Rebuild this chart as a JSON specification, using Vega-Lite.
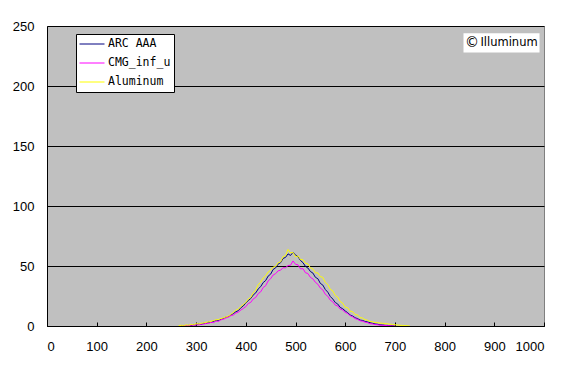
{
"$schema": "https://vega.github.io/schema/vega-lite/v6.json",
"width": 497, "height": 300,
"autosize": {"type": "none"},
"padding": {"left": 47, "top": 26, "right": 24, "bottom": 42},
"background": "white",
"config": {
  "view": {"fill": "#C0C0C0", "stroke": "#808080", "strokeWidth": 1},
  "axis": {"labelFont": "Liberation Sans", "labelFontSize": 13, "labelColor": "black", "domainColor": "black", "tickColor": "black", "gridColor": "black", "gridOpacity": 1, "title": null},
  "legend": {"orient": "none", "legendX": 29, "legendY": 8, "fillColor": "white", "strokeColor": "black", "padding": 3, "symbolType": "stroke", "symbolSize": 625, "symbolStrokeWidth": 1, "clipHeight": 14, "labelFont": "DejaVu Sans Mono", "labelFontSize": 11.5, "labelColor": "black", "labelOffset": 3, "rowPadding": 5, "title": null, "cornerRadius": 0}
},
"datasets": {
"ARC": [[270,0],[275,0.3],[280,0],[285,0.5],[290,0.4],[295,1.0],[300,0.8],[305,1.6],[310,1.3],[315,2.2],[320,2.0],[325,3.1],[330,2.9],[335,3.8],[340,4.7],[345,4.5],[350,5.6],[355,6.3],[360,7.4],[365,7.9],[370,9.2],[375,10.3],[380,11.9],[385,12.8],[390,15.2],[395,16.7],[400,19.3],[405,21.2],[410,22.9],[415,25.9],[420,27.6],[425,30.9],[430,32.8],[435,36.2],[440,37.9],[445,41.6],[450,43.2],[455,47.1],[460,48.4],[465,51.6],[470,52.7],[475,56.3],[480,57.2],[485,60.1],[490,58.8],[495,61.4],[500,59.1],[505,57.9],[510,54.6],[515,52.8],[520,49.7],[525,48.3],[530,45.4],[535,44.1],[540,40.6],[545,39.4],[550,35.5],[555,34.1],[560,30.4],[565,28.2],[570,24.6],[575,22.5],[580,19.6],[585,18.3],[590,15.5],[595,14.4],[600,12.6],[605,11.1],[610,9.2],[615,8.3],[620,6.9],[625,6.1],[630,4.9],[635,4.6],[640,3.8],[645,3.4],[650,2.7],[655,2.3],[660,1.7],[665,1.5],[670,1.0],[675,0.9],[680,0.6],[685,0.5],[690,0.3],[695,0.2],[700,0]],
"CMG": [[270,0],[275,0],[280,0.4],[285,0.3],[290,0.7],[295,0.6],[300,1.0],[305,0.9],[310,1.6],[315,1.4],[320,2.3],[325,2.1],[330,3.1],[335,2.8],[340,4.1],[345,3.9],[350,5.2],[355,5.6],[360,6.7],[365,7.3],[370,8.6],[375,9.2],[380,10.8],[385,11.6],[390,13.3],[395,14.6],[400,16.1],[405,18.8],[410,19.7],[415,22.6],[420,23.8],[425,27.0],[430,28.5],[435,32.1],[440,33.6],[445,37.6],[450,39.4],[455,42.5],[460,43.6],[465,46.0],[470,46.5],[475,48.6],[480,48.5],[485,50.4],[490,50.6],[495,54.2],[500,51.4],[505,51.0],[510,47.6],[515,47.8],[520,44.4],[525,43.7],[530,40.5],[535,39.3],[540,36.4],[545,34.8],[550,31.6],[555,30.1],[560,26.4],[565,24.8],[570,21.5],[575,20.2],[580,17.4],[585,16.7],[590,14.1],[595,13.3],[600,11.4],[605,10.4],[610,8.6],[615,7.7],[620,6.2],[625,5.4],[630,4.4],[635,3.9],[640,3.2],[645,2.7],[650,1.9],[655,1.7],[660,1.2],[665,1.0],[670,0.7],[675,0.6],[680,0.4],[685,0.3],[690,0.2],[695,0],[700,0]],
"ALU": [[265,0.3],[270,0.6],[275,0.4],[280,0.9],[285,0.7],[290,1.3],[295,1.1],[300,1.9],[305,1.7],[310,2.3],[315,2.5],[320,3.1],[325,3.4],[330,3.9],[335,4.6],[340,5.1],[345,5.4],[350,6.2],[355,6.8],[360,7.6],[365,8.3],[370,9.6],[375,11.4],[380,13.2],[385,14.1],[390,16.3],[395,17.9],[400,19.6],[405,22.6],[410,23.7],[415,27.8],[420,29.8],[425,34.6],[430,36.5],[435,40.1],[440,41.8],[445,45.0],[450,46.5],[455,49.1],[460,49.6],[465,52.7],[470,53.4],[475,57.8],[480,58.6],[485,63.8],[490,60.9],[495,61.3],[500,57.6],[505,58.5],[510,55.4],[515,55.2],[520,52.3],[525,51.7],[530,48.5],[535,47.6],[540,44.4],[545,44.2],[550,41.2],[555,40.5],[560,36.3],[565,34.6],[570,30.5],[575,29.3],[580,25.4],[585,24.1],[590,20.4],[595,19.0],[600,15.7],[605,15.2],[610,12.4],[615,11.9],[620,9.6],[625,9.1],[630,7.1],[635,6.6],[640,5.2],[645,4.8],[650,3.8],[655,3.5],[660,2.9],[665,2.8],[670,2.4],[675,2.3],[680,1.9],[685,1.9],[690,1.4],[695,1.4],[700,1.0],[705,0.9],[710,0.6],[715,0.5],[720,0.3],[725,0.2],[730,0]]
},
"layer": [
  {
    "data": {"name": "ARC"},
    "transform": [{"calculate": "datum[0]", "as": "x"}, {"calculate": "datum[1]", "as": "y"}, {"calculate": "'ARC AAA'", "as": "s"}],
    "mark": {"type": "line", "strokeWidth": 1, "clip": true},
    "encoding": {
      "x": {"field": "x", "type": "quantitative", "scale": {"domain": [0, 1000], "nice": false}, "axis": {"values": [0,100,200,300,400,500,600,700,800,900,1000], "format": "d", "grid": false, "tickSize": -4, "labelPadding": 18}},
      "y": {"field": "y", "type": "quantitative", "scale": {"domain": [0, 250], "nice": false}, "axis": {"values": [0,50,100,150,200,250], "grid": true, "ticks": false, "labelPadding": 13}},
      "color": {"field": "s", "type": "nominal", "scale": {"domain": ["ARC AAA", "CMG_inf_u", "Aluminum"], "range": ["#000080", "#FF00FF", "#FFFF00"]}}
    }
  },
  {
    "data": {"name": "CMG"},
    "transform": [{"calculate": "datum[0]", "as": "x"}, {"calculate": "datum[1]", "as": "y"}, {"calculate": "'CMG_inf_u'", "as": "s"}],
    "mark": {"type": "line", "strokeWidth": 1, "clip": true},
    "encoding": {
      "x": {"field": "x", "type": "quantitative"},
      "y": {"field": "y", "type": "quantitative"},
      "color": {"field": "s", "type": "nominal"}
    }
  },
  {
    "data": {"name": "ALU"},
    "transform": [{"calculate": "datum[0]", "as": "x"}, {"calculate": "datum[1]", "as": "y"}, {"calculate": "'Aluminum'", "as": "s"}],
    "mark": {"type": "line", "strokeWidth": 1, "clip": true},
    "encoding": {
      "x": {"field": "x", "type": "quantitative"},
      "y": {"field": "y", "type": "quantitative"},
      "color": {"field": "s", "type": "nominal"}
    }
  },
  {
    "data": {"values": [{}]},
    "mark": {"type": "rect", "fill": "white"},
    "encoding": {
      "x": {"datum": 838, "type": "quantitative"}, "x2": {"datum": 991},
      "y": {"datum": 244, "type": "quantitative"}, "y2": {"datum": 228}
    }
  },
  {
    "data": {"values": [{}]},
    "mark": {"type": "text", "text": "©", "font": "DejaVu Sans", "fontSize": 14, "align": "left", "baseline": "middle", "color": "black"},
    "encoding": {"x": {"datum": 841, "type": "quantitative"}, "y": {"datum": 236, "type": "quantitative"}}
  },
  {
    "data": {"values": [{}]},
    "mark": {"type": "text", "text": "Illuminum", "font": "DejaVu Sans", "fontSize": 11.5, "align": "left", "baseline": "middle", "color": "black"},
    "encoding": {"x": {"datum": 872, "type": "quantitative"}, "y": {"datum": 236, "type": "quantitative"}}
  }
]
}
